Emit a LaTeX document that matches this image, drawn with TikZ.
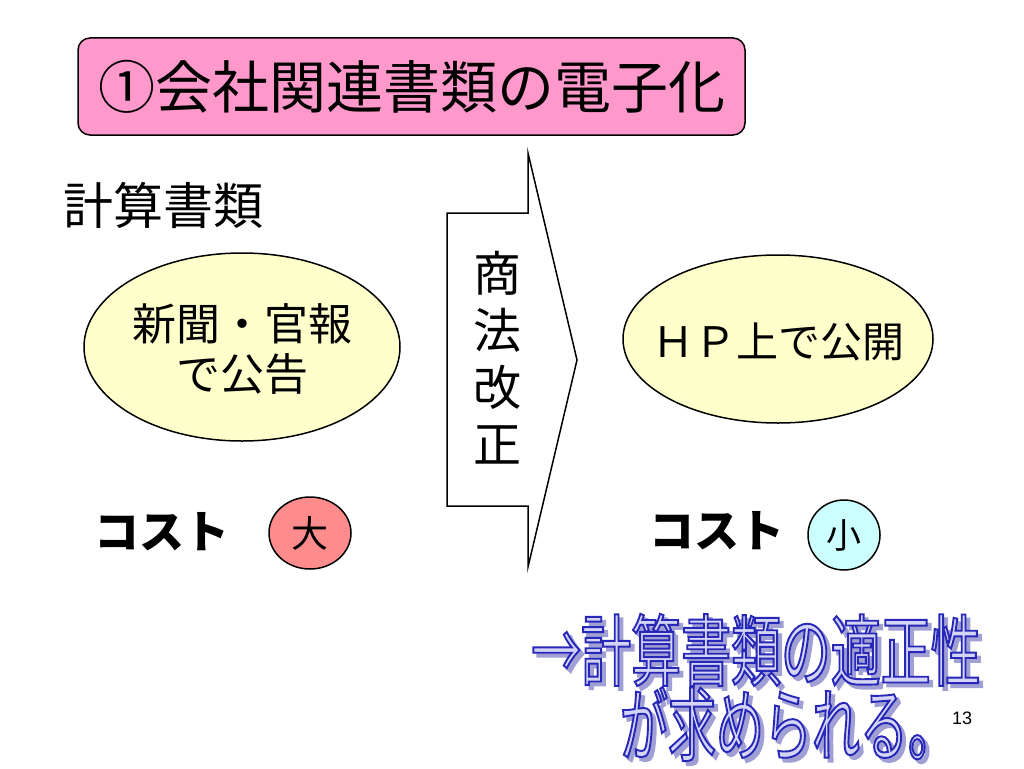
\documentclass[tikz,border=0pt]{standalone}
\usepackage{fontspec}
\setmainfont{Noto Sans CJK JP}
\newfontfamily\wafontA[FakeStretch=0.64]{Noto Sans CJK JP}
\newfontfamily\wafontB[FakeStretch=0.6]{Noto Sans CJK JP}
\newfontfamily\latfont{Liberation Sans}
\usetikzlibrary{shapes.geometric,calc}
\definecolor{titlepink}{HTML}{FF99CC}
\definecolor{ellfill}{HTML}{FFFFCC}
\definecolor{bigred}{HTML}{FF8C8C}
\definecolor{smallcyan}{HTML}{CCFFFF}
\definecolor{wafill}{HTML}{D4D4F6}
\definecolor{washadow}{HTML}{A0A0D4}
\newcommand{\fs}[1]{\fontsize{#1}{#1}\selectfont}
% outlined text: fill with current colour, stroke with given RGB
\newcommand{\outlined}[2]{\special{pdf:literal direct #1 RG 2 Tr 1.9 w}#2\special{pdf:literal direct 0 Tr}}
\begin{document}
\begin{tikzpicture}[x=1pt,y=-1pt,
  line width=1.5pt,
  titlebox/.style={draw=black, fill=titlepink, rounded corners=12pt, minimum width=667pt, minimum height=97pt, inner sep=0pt, font=\fs{57}},
  bubble/.style={draw=black, fill=ellfill, ellipse, inner sep=0pt},
  costmark/.style={draw=black, ellipse, inner sep=0pt, minimum width=82pt, minimum height=72pt},
  plain/.style={inner sep=0pt, text=black},
  cost/.style={inner sep=0pt, font=\fs{45}\bfseries},
  walayer/.style={inner sep=0pt},
]
\useasboundingbox (0,0) rectangle (1024,768);

% title
\node[titlebox] (title) at (411.5,86.5) {①会社関連書類の電子化};

% label
\node[plain, anchor=west, font=\fs{50}] (calc) at (63,205) {計算書類};

% ellipses
\node[bubble, minimum width=316pt, minimum height=188pt] (left) at (242,347) {};
\node[plain, align=center, font=\fs{44}] (lefttext) at (242,349) {新聞・官報\\[6pt]で公告};
\node[bubble, minimum width=310pt, minimum height=168pt] (right) at (778,339) {};
\node[plain, font=\fs{42}] (righttext) at (778,342) {ＨＰ上で公開};

% big arrow
\draw[line width=1.5pt, line join=miter] (447,213) -- (528,213) -- (528,153) -- (577,360) -- (528,567) -- (528,506) -- (447,506) -- cycle;
\node[plain, align=center, font=\fontsize{48}{57}\selectfont] (law) at (497,358) {商\\法\\改\\正};

% costs
\node[cost] (costL) at (162,532) {コスト};
\node[costmark, fill=bigred] (big) at (310,533) {};
\node[plain, font=\fs{37}] (bigtxt) at (310,533) {大};
\node[cost] (costR) at (717,531) {コスト};
\node[costmark, fill=smallcyan, minimum width=72pt, minimum height=70pt] (small) at (844,535) {};
\node[plain, font=\fs{35}] (smalltxt) at (844,535) {小};

% word art
\node[walayer, text=washadow, font=\wafontA\fs{78}] (ws1) at (760,654) {\outlined{0.627 0.627 0.831}{→計算書類の適正性}};
\node[walayer, text=wafill, font=\wafontA\fs{78}] (wf1) at (756,650) {\outlined{0.157 0.157 0.722}{→計算書類の適正性}};
\node[walayer, text=washadow, font=\wafontB\fs{80}] (ws2) at (792,728) {\outlined{0.627 0.627 0.831}{が求められる。}};
\node[walayer, text=wafill, font=\wafontB\fs{80}] (wf2) at (788,724) {\outlined{0.157 0.157 0.722}{が求められる。}};

% page number
\node[plain, font=\latfont\fs{18}] (pageno) at (962,718) {13};
\end{tikzpicture}
\end{document}
